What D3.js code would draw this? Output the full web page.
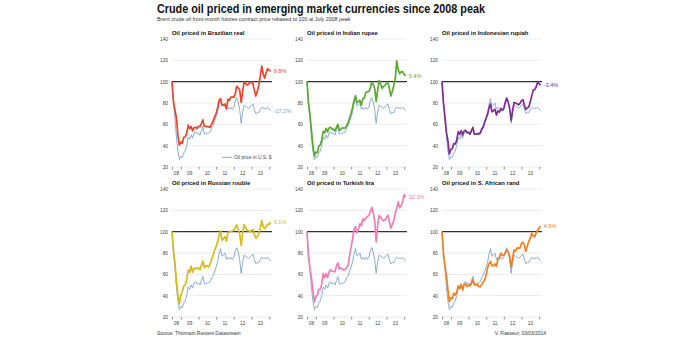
<!DOCTYPE html>
<meta charset="utf-8">
<style>
  body { margin: 0; background: #fff; }
  svg text { font-family: "Liberation Sans", Arial, sans-serif; }
</style>
<body>
<div id="chart"></div>
<script src="https://d3js.org/d3.v7.min.js"></script>
<script>
  // monthly points, Jul 2008 (peak = 100) .. Feb 2014
  var usd = [100, 80, 65, 48, 35, 27,
    30, 29, 33, 35, 40, 48, 46, 50, 47, 52, 53, 51,
    52, 50, 54, 58, 51, 51, 52, 52, 53, 57, 59, 63,
    67, 72, 79, 84, 77, 78, 80, 74, 76, 74, 76, 74,
    76, 82, 85, 81, 74, 61, 71, 78, 77, 76, 75, 76,
    78, 79, 74, 70, 71, 71, 74, 76, 75, 75, 75, 76,
    74, 72.8];
  var brl = [100, 81, 73.6, 65.5, 49.7, 40.6,
    43.6, 42.1, 47.9, 48.4, 51.8, 59.2, 55.8, 57.9, 53.8, 56.9, 57.3, 56.1,
    58.2, 57.9, 60.8, 64.2, 58.1, 58.1, 57.9, 57.6, 57.3, 60.2, 63.5, 67.0,
    70.4, 75.6, 82.5, 84, 78, 78, 78.5, 74.5, 83.6, 82.4, 85.6, 85.6,
    85.6, 88.7, 95.7, 94.2, 92.6, 80.5, 90.7, 99.6, 98.3, 97.0, 97.6, 99.4,
    99.6, 97.9, 92.1, 86.5, 90.7, 96.9, 104.7, 114.5, 107.1, 103.3, 108.5, 112.3,
    110.8, 109.8];
  var inr = [100, 79.8, 68.9, 54.4, 39.9, 30.5,
    34.0, 33.2, 39.3, 40.7, 45.1, 53.4, 51.9, 56.2, 52.9, 56.5, 57.4, 55.3,
    55.5, 53.8, 57.1, 60.0, 54.3, 55.2, 56.6, 56.4, 56.7, 58.9, 61.6, 66.1,
    70.7, 76.0, 82.7, 86.7, 80.4, 81.3, 82.6, 78.0, 84.1, 84.7, 89.8, 90.7,
    90.7, 93.8, 99.4, 97.6, 93.8, 81.5, 91.6, 100.9, 97.8, 93.7, 95.6, 96.5,
    98.5, 98.7, 93.6, 86.6, 90.8, 96.4, 102.9, 119.5, 111.3, 107.4, 109.2, 109.4,
    106.9, 105.4];
  var idr = [100, 79.6, 66.1, 52.4, 44.5, 32.3,
    36.5, 37.4, 42.0, 41.5, 45.0, 53.2, 50.5, 54.1, 50.1, 53.7, 54.4, 52.4,
    52.5, 50.8, 53.8, 56.9, 50.9, 50.7, 51.2, 50.8, 51.7, 55.3, 57.3, 61.7,
    65.8, 69.7, 75.1, 79.0, 71.7, 72.7, 74.2, 68.6, 72.6, 71.5, 74.5, 73.1,
    74.9, 80.5, 84.6, 80.8, 74.7, 63.7, 73.0, 80.5, 80.0, 79.3, 78.3, 79.7,
    82.2, 83.1, 78.2, 74.0, 75.6, 76.2, 81.2, 86.7, 92.1, 92.5, 95.0, 100.0,
    98.1, 96.6];
  var rub = [100, 82.7, 70.3, 53.9, 40.8, 32.4,
    40.4, 44.2, 48.9, 50.1, 54.7, 63.8, 61.9, 67.7, 61.9, 65.6, 65.5, 65.4,
    66.2, 64.3, 68.3, 72.4, 66.3, 68.0, 68.0, 67.1, 70.0, 74.1, 78.2, 82.7,
    86.2, 90.2, 95.9, 100.9, 92.1, 93.3, 95.4, 91.1, 99.4, 99.6, 100.4, 100.6,
    101.3, 103.7, 106.4, 102.1, 98.0, 87.2, 98.3, 106.7, 103.7, 101.0, 101.0, 100.0,
    101.0, 102.0, 97.4, 93.9, 95.0, 98.0, 103.1, 110.5, 104.5, 102.9, 104.8, 106.9,
    106.9, 109.1];
  var tryl = [100, 76.7, 65.0, 57.0, 45.0, 34.1,
    39.3, 40.4, 46.0, 45.9, 50.8, 60.6, 56.6, 60.7, 57.0, 62.2, 64.3, 62.7,
    62.7, 62.3, 67.7, 70.8, 64.8, 66.0, 65.2, 63.9, 64.7, 66.3, 68.7, 78.5,
    85.7, 93.8, 102.3, 104.7, 99.1, 102.3, 107.5, 105.5, 112.1, 110.4, 112.8, 114.0,
    115.2, 118.3, 122.7, 118.2, 110.4, 90.5, 105.3, 115.1, 113.6, 111.5, 110.0, 110.9,
    113.2, 115.3, 109.8, 103.3, 106.5, 110.6, 117.1, 122.1, 128.2, 122.3, 124.2, 128.3,
    134.7, 132.3];
  var zar = [100, 79.0, 67.5, 59.1, 45.3, 34.3,
    38.1, 37.2, 42.3, 40.4, 43.1, 49.2, 46.6, 50.6, 45.2, 50.0, 51.0, 48.4,
    50.0, 49.4, 51.2, 55.0, 50.3, 49.7, 50.7, 48.7, 48.2, 50.4, 52.9, 54.9,
    59.3, 66.5, 69.9, 72.2, 68.1, 68.0, 69.7, 67.4, 74.1, 75.9, 79.9, 77.8,
    77.9, 79.9, 82.8, 81.0, 76.8, 66.8, 74.6, 83.0, 81.9, 84.8, 84.6, 84.8,
    89.0, 90.1, 87.3, 81.7, 86.5, 91.0, 93.9, 98.4, 96.2, 95.2, 99.0, 101.3,
    103.4, 104.9];

  var titles = ['Oil priced in Brazilian real', 'Oil priced in Indian rupee', 'Oil priced in Indonesian rupiah',
    'Oil priced in Russian rouble', 'Oil priced in Turkish lira', 'Oil priced in S. African rand'];
  var series = [brl, inr, idr, rub, tryl, zar];
  var colors = ['#e8452f', '#5ca833', '#7d2e8e', '#d6bb1c', '#f17db3', '#ef7f21'];
  var usdColor = '#7da4cb';

  var yTicks = [20, 40, 60, 80, 100, 120, 140];
  var yearLabels = ['08', '09', '10', '11', '12', '13'];

  var months = d3.timeMonth.range(new Date(2008, 6, 1), new Date(2014, 2, 1));

  var W = 692, H = 338;
  var svg = d3.select('#chart').append('svg')
    .attr('width', W)
    .attr('height', H);

  svg.append('text')
    .attr('x', 157).attr('y', 13)
    .attr('textLength', 328).attr('lengthAdjust', 'spacingAndGlyphs')
    .style('font-size', '12.2px').style('font-weight', 'bold').style('fill', '#111')
    .text('Crude oil priced in emerging market currencies since 2008 peak');

  svg.append('text')
    .attr('x', 157).attr('y', 20.5)
    .style('font-size', '5.3px').style('fill', '#333')
    .text('Brent crude oil front-month futures contract price rebased to 100 at July 2008 peak');

  svg.append('text')
    .attr('x', 157).attr('y', 335)
    .style('font-size', '4.9px').style('fill', '#333')
    .text('Source: Thomson Reuters Datastream');

  svg.append('text')
    .attr('x', 546).attr('y', 335)
    .attr('text-anchor', 'end')
    .style('font-size', '4.9px').style('fill', '#333')
    .text('V. Flasseur, 03/03/2014');

  var pw = 100;
  var x = d3.scaleTime()
    .domain([new Date(2008, 6, 1), new Date(2014, 2, 1)])
    .range([0, pw]);
  var y = d3.scaleLinear()
    .domain([20, 140])
    .range([128, 0]);

  var line = d3.line()
    .x(function (d, i) { return x(months[i]); })
    .y(function (d) { return y(d); });

  series.forEach(function (vals, k) {
    var col = k % 3, row = Math.floor(k / 3);
    var g = svg.append('g')
      .attr('transform', 'translate(' + (172 + col * 135) + ',' + (39 + row * 150) + ')');

    // grid
    g.selectAll('.grid')
      .data(yTicks)
      .enter().append('line')
      .attr('x1', 0).attr('x2', pw)
      .attr('y1', function (d) { return y(d); })
      .attr('y2', function (d) { return y(d); })
      .style('stroke', '#dedede')
      .style('stroke-width', 0.6);

    // y axis labels
    var ya = g.append('g')
      .attr('transform', 'translate(-4,0)')
      .call(d3.axisLeft(y).tickValues(yTicks).tickSize(0).tickPadding(0));
    ya.select('.domain').remove();
    ya.selectAll('text').style('font-size', '4.8px').style('fill', '#444')
      .style('font-family', '"Liberation Sans", Arial, sans-serif');

    // x ticks at year starts
    var xt = g.append('g')
      .attr('transform', 'translate(0,' + y(20) + ')')
      .call(d3.axisBottom(x)
        .tickValues([new Date(2008, 6, 1)].concat(d3.timeYear.range(new Date(2009, 0, 1), new Date(2014, 1, 1))))
        .tickSize(2.5).tickFormat(''));
    xt.select('.domain').remove();
    xt.selectAll('line').style('stroke', '#444').style('stroke-width', 0.6);

    // year labels centred in each year
    g.selectAll('.yl')
      .data(yearLabels)
      .enter().append('text')
      .attr('x', function (d, i) {
        var a = i === 0 ? new Date(2008, 6, 1) : new Date(2008 + i, 0, 1);
        var b = new Date(2009 + i, 0, 1);
        return (x(a) + x(b)) / 2;
      })
      .attr('y', y(20) + 8)
      .attr('text-anchor', 'middle')
      .style('font-size', '4.8px').style('fill', '#444')
      .text(function (d) { return d; });

    // usd line
    g.append('path')
      .datum(usd)
      .attr('d', line)
      .style('fill', 'none')
      .style('stroke', usdColor)
      .style('stroke-width', 0.9);

    // 100 line
    g.append('line')
      .attr('x1', 0).attr('x2', pw)
      .attr('y1', y(100)).attr('y2', y(100))
      .style('stroke', '#333')
      .style('stroke-width', 1.1);

    g.append('path')
      .datum(vals)
      .attr('d', line)
      .style('fill', 'none')
      .style('stroke', colors[k])
      .style('stroke-width', 1.7)
      .style('stroke-linejoin', 'round');

    g.append('text')
      .attr('x', 0).attr('y', -4)
      .style('font-size', '5.9px').style('font-weight', 'bold').style('fill', '#111')
      .text(titles[k]);

    var last = vals[vals.length - 1];
    g.append('text')
      .attr('x', x(months[months.length - 1]) + 3)
      .attr('y', y(last))
      .attr('dy', '0.35em')
      .style('font-size', '5.6px').style('fill', colors[k])
      .text((last - 100).toFixed(1) + '%');

    if (k === 0) {
      var ul = usd[usd.length - 1];
      g.append('text')
        .attr('x', x(months[months.length - 1]) + 3)
        .attr('y', y(ul))
        .attr('dy', '0.35em')
        .style('font-size', '5.6px').style('fill', usdColor)
        .text((ul - 100).toFixed(1) + '%');

      g.append('line')
        .attr('x1', 50).attr('x2', 60)
        .attr('y1', y(29)).attr('y2', y(29))
        .style('stroke', usdColor).style('stroke-width', 0.9);
      g.append('text')
        .attr('x', 62).attr('y', y(29)).attr('dy', '0.35em')
        .style('font-size', '4.8px').style('fill', '#444')
        .text('Oil price in U.S. $');
    }
  });
</script>
</body>
